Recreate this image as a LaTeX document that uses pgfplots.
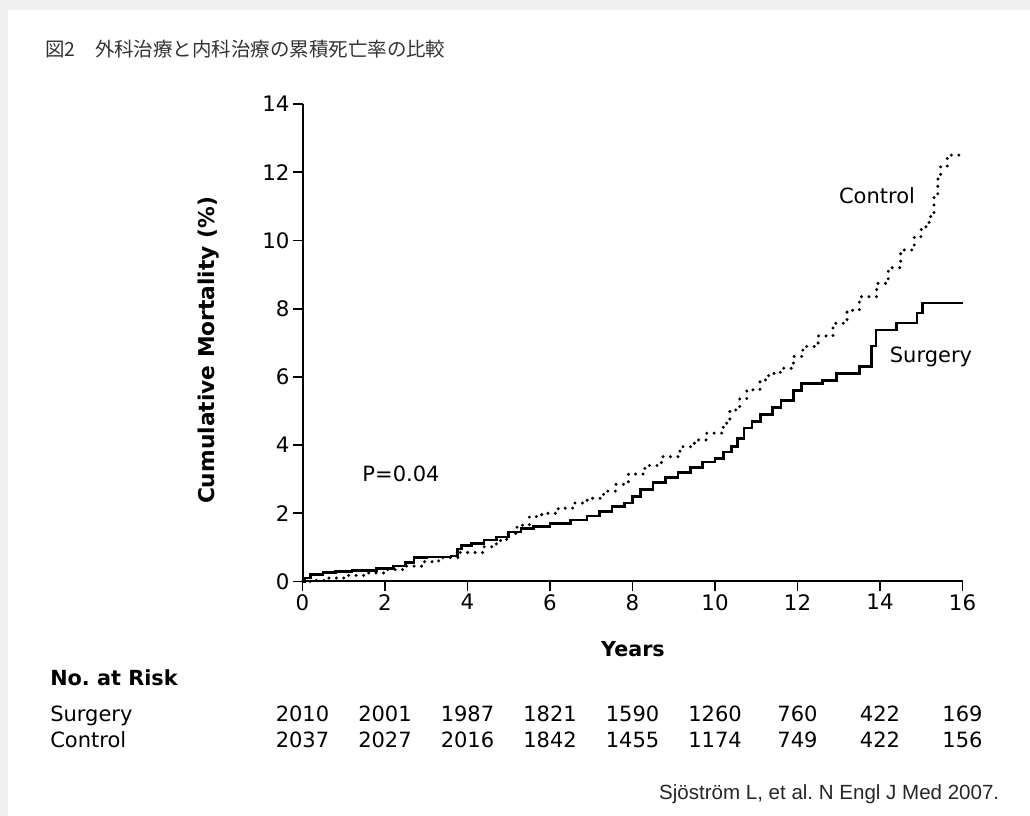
\documentclass[border=0pt]{standalone}
\usepackage{fontspec}
\setmainfont{DejaVu Sans}
\newfontfamily\jpfont{Noto Sans CJK JP}
\newfontfamily\refont{Liberation Sans}
\usepackage{pgfplots}
\pgfplotsset{compat=1.18}
\def\u{0.75pt}
\frenchspacing
\pgfplotstableread{
x y
0 0.0
0.05 0.1
0.2 0.2
0.5 0.27
0.8 0.3
1.2 0.33
1.8 0.38
2.2 0.45
2.5 0.55
2.7 0.7
3.0 0.72
3.6 0.75
3.75 0.95
3.85 1.05
4.1 1.12
4.4 1.22
4.7 1.3
5.0 1.45
5.3 1.55
5.6 1.62
6.0 1.7
6.5 1.8
6.9 1.92
7.2 2.05
7.5 2.2
7.8 2.3
8.0 2.5
8.2 2.7
8.5 2.9
8.8 3.05
9.1 3.2
9.4 3.35
9.7 3.5
10.0 3.6
10.2 3.8
10.4 3.95
10.55 4.2
10.7 4.5
10.9 4.7
11.1 4.9
11.4 5.1
11.6 5.3
11.9 5.6
12.1 5.8
12.6 5.9
12.95 6.1
13.5 6.3
13.8 6.9
13.9 7.37
14.4 7.58
14.9 7.87
15.03 8.17
16.0 8.17
}\surgery
\pgfplotstableread{
x y
0 0
0.3 0.03
0.6 0.1
1.0 0.18
1.5 0.25
2.0 0.35
2.5 0.45
2.9 0.58
3.3 0.7
3.8 0.85
4.4 1.02
4.7 1.2
4.95 1.41
5.2 1.65
5.5 1.9
5.8 2.0
6.2 2.15
6.6 2.3
6.9 2.44
7.3 2.65
7.6 2.85
7.9 3.15
8.3 3.4
8.7 3.66
9.15 3.95
9.5 4.15
9.8 4.35
10.2 4.64
10.36 5.03
10.6 5.35
10.77 5.62
11.09 5.91
11.3 6.1
11.58 6.25
11.9 6.6
12.13 6.89
12.5 7.2
12.86 7.57
13.2 7.95
13.5 8.35
13.92 8.74
14.2 9.2
14.5 9.72
14.83 10.11
15.0 10.4
15.19 10.7
15.31 11.28
15.4 11.8
15.47 12.16
15.63 12.5
15.95 12.5
}\control
\begin{document}
\begin{tikzpicture}
\fill[black!6] (0,0) rectangle ({1030*\u},{816*\u});
\fill[white] ({8*\u},0) rectangle ({1030*\u},{(816-10)*\u});
\node[anchor=base west, font=\jpfont\fontsize{14.6}{16}\selectfont, text=black!80, inner sep=0pt] at ({45*\u},{(816-57)*\u}) {図2　外科治療と内科治療の累積死亡率の比較};
\begin{axis}[
 scale only axis, width={660*\u}, height={477.5*\u},
 at={({302.5*\u},{(816-581.5)*\u})}, anchor=south west,
 xmin=0,xmax=16,ymin=0,ymax=14,
 axis x line=bottom, axis y line=left,
 axis line style={black,line width=1.5pt,-},
 xtick={0,2,...,16}, ytick={0,2,...,14},
 tick align=outside, major tick length={10*\u},
 tick style={black, line width=1.3pt},
 /pgf/number format/assume math mode=true,
 ticklabel style={font=\fontsize{16}{18}\selectfont, inner sep=2pt},
 clip=false,
]
\addplot[const plot, black, line width=2pt] table {\surgery};
\addplot[const plot, black, line width=2.5pt, dash pattern=on 0pt off 5.6pt, line cap=round] table {\control};
\end{axis}
\node[font=\bfseries\fontsize{15.5}{18}\selectfont, anchor=base] at ({633*\u},{(816-657)*\u}) {Years};
\node[font=\bfseries\fontsize{16.3}{18}\selectfont, rotate=90] at ({209*\u},{(816-350.5)*\u}) {Cumulative Mortality (\%)};
\node[font=\fontsize{15.75}{18}\selectfont] at ({877*\u},{(816-196)*\u}) {Control};
\node[font=\fontsize{15.75}{18}\selectfont] at ({931*\u},{(816-357)*\u}) {Surgery};
\node[font=\fontsize{15.75}{18}\selectfont] at ({401*\u},{(816-474)*\u}) {P=0.04};
\node[font=\bfseries\fontsize{15.6}{18}\selectfont, anchor=base west, inner sep=0pt] at ({50*\u},{(816-686)*\u}) {No. at Risk};
\node[font=\fontsize{15.75}{18}\selectfont, anchor=base west, inner sep=0pt] at ({50*\u},{(816-722)*\u}) {Surgery};
\node[font=\fontsize{15.75}{18}\selectfont, anchor=base west, inner sep=0pt] at ({50*\u},{(816-748)*\u}) {Control};
\foreach \k/\s/\c in {0/2010/2037,1/2001/2027,2/1987/2016,3/1821/1842,4/1590/1455,5/1260/1174,6/760/749,7/422/422,8/169/156}{
  \node[font=\fontsize{15.75}{18}\selectfont, anchor=base, inner sep=0pt] at ({(302.5+82.5*\k)*\u},{(816-722)*\u}) {\s};
  \node[font=\fontsize{15.75}{18}\selectfont, anchor=base, inner sep=0pt] at ({(302.5+82.5*\k)*\u},{(816-748)*\u}) {\c};
}
\node[font=\refont\fontsize{15.4}{18}\selectfont, text=black!85, anchor=base east, inner sep=0pt] at ({999.5*\u},{(816-800)*\u}) {Sjöström L, et al. N Engl J Med 2007.};
\end{tikzpicture}
\end{document}
